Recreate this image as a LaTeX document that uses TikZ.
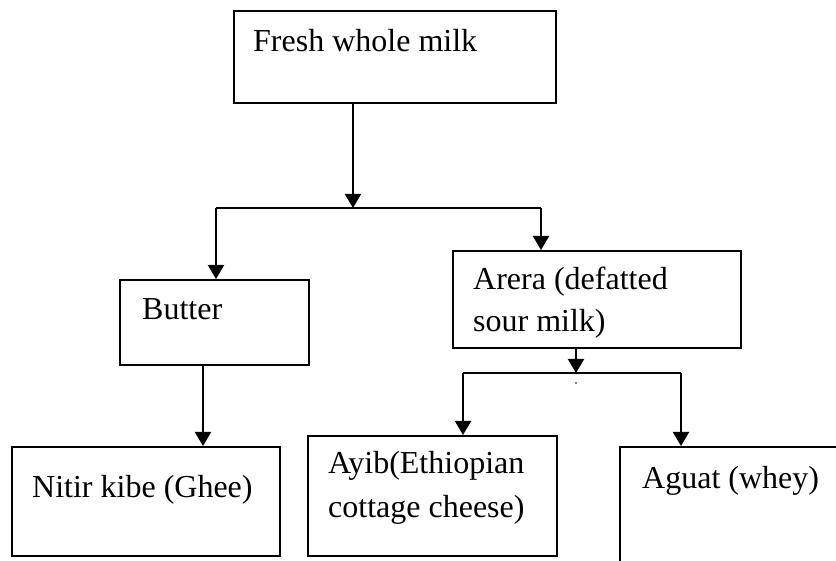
\documentclass[tikz,border=0pt]{standalone}
\usepackage{fontspec}
\setmainfont{Liberation Serif}
\usetikzlibrary{arrows.meta}
\begin{document}
\begin{tikzpicture}[x=1pt,y=-1pt,
  box/.style={draw, line width=1.8pt, inner sep=0pt, anchor=north west},
  lbl/.style={anchor=base west, inner sep=0pt, font=\fontsize{32}{44}\selectfont},
  conn/.style={line width=2pt},
  arr/.style={conn, -{Triangle[length=14pt,width=16pt]}}]
\clip (0,0) rectangle (836,561);
% boxes
\node[box, minimum width=322pt, minimum height=92pt] (milk) at (233,10) {};
\node[box, minimum width=189pt, minimum height=85pt] (butter) at (119,279) {};
\node[box, minimum width=288pt, minimum height=97pt] (arera) at (452,250) {};
\node[box, minimum width=268pt, minimum height=109pt] (nitir) at (11,446) {};
\node[box, minimum width=249pt, minimum height=120pt] (ayib) at (307,435) {};
\node[box, minimum width=260pt, minimum height=150pt] (aguat) at (619,446) {};
% texts
\node[lbl] (tmilk) at (253,52) {Fresh whole milk};
\node[lbl] (tbutter) at (142,320) {Butter};
\node[lbl] (tarera1) at (473,290) {Arera (defatted};
\node[lbl] (tarera2) at (473,332) {sour milk)};
\node[lbl] (tnitir) at (32,497) {Nitir kibe (Ghee)};
\node[lbl] (tayib1) at (328,473) {Ayib(Ethiopian};
\node[lbl] (tayib2) at (328,517) {cottage cheese)};
\node[lbl] (taguat) at (642,488) {Aguat (whey)};
% connector points
\coordinate (s1) at (353,208);
\coordinate (s1l) at (216,208);
\coordinate (s1r) at (541,208);
\coordinate (bx) at (203,364);
\coordinate (s2) at (576,373);
\coordinate (s2l) at (463,373);
\coordinate (s2r) at (681,373);
% connectors
\draw[arr] (s1 |- milk.south) -- (s1);
\draw[conn] (s1l) -- (s1r);
\draw[arr] (s1l) -- (s1l |- butter.north);
\draw[arr] (s1r) -- (s1r |- arera.north);
\draw[arr] (bx |- butter.south) -- (bx |- nitir.north);
\draw[arr] (s2 |- arera.south) -- (s2);
\draw[conn] (s2l) -- (s2r);
\draw[arr] (s2l) -- (s2l |- ayib.north);
\draw[arr] (s2r) -- (s2r |- aguat.north);
\fill (576,383) circle (0.8);
\end{tikzpicture}
\end{document}
